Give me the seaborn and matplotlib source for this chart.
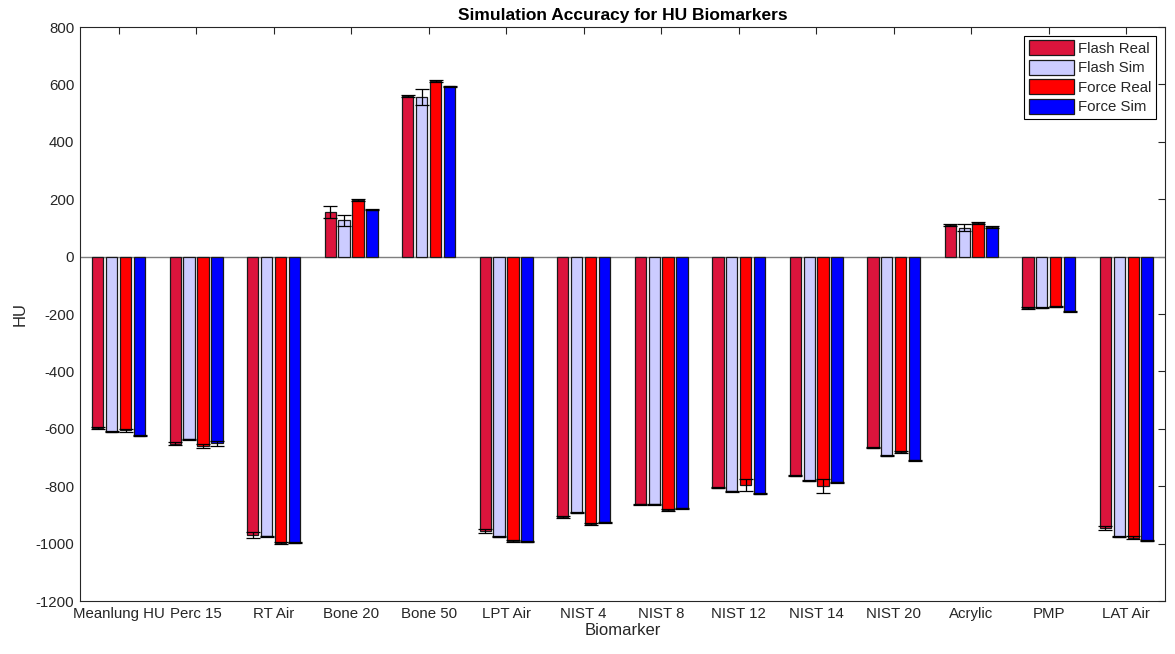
import numpy as np
import pandas as pd
import matplotlib
matplotlib.use("Agg")
import matplotlib.pyplot as plt
import seaborn as sns

biomarkers = ["Meanlung HU", "Perc 15", "RT Air", "Bone 20", "Bone 50", "LPT Air",
              "NIST 4", "NIST 8", "NIST 12", "NIST 14", "NIST 20", "Acrylic", "PMP", "LAT Air"]
series = ["Flash Real", "Flash Sim", "Force Real", "Force Sim"]

flash_real = [-597, -652, -970, 155, 559, -956, -906, -863, -805, -763, -666, 111, -179, -945]
flash_sim = [-610, -637, -974, 126, 556, -976, -893, -863, -818, -781, -694, 101, -178, -976]
force_real = [-605, -660, -999, 197, 611, -990, -932, -882, -796, -799, -681, 118, -175, -979]
force_sim = [-624, -651, -997, 163, 594, -993, -925, -877, -826, -786, -710, 103, -190, -990]

flash_real_err = [5, 6, 10, 20, 3, 8, 3, 2, 2, 2, 2, 3, 2, 8]
flash_sim_err = [2, 3, 2, 20, 28, 2, 2, 2, 2, 2, 2, 13, 2, 2]
force_real_err = [5, 6, 3, 3, 3, 3, 3, 3, 22, 23, 2, 4, 2, 6]
force_sim_err = [2, 10, 2, 2, 2, 2, 2, 2, 2, 2, 2, 2, 2, 2]

colors = ["#DC143C", "#CCCCFF", "#FF0000", "#0000FF"]

values = [flash_real, flash_sim, force_real, force_sim]
errors = [flash_real_err, flash_sim_err, force_real_err, force_sim_err]

df = pd.DataFrame({
    "Biomarker": np.tile(biomarkers, len(series)),
    "Series": np.repeat(series, len(biomarkers)),
    "HU": np.concatenate(values),
})

sns.set_style("white")
plt.rcParams["font.family"] = ["Liberation Sans", "DejaVu Sans"]
plt.rcParams["axes.unicode_minus"] = False
plt.rcParams["xtick.direction"] = "in"
plt.rcParams["ytick.direction"] = "in"

fig = plt.figure(figsize=(11.75, 6.54), dpi=100)
ax = fig.add_axes([0.068, 0.081, 0.9235, 0.8777])

sns.barplot(data=df, x="Biomarker", y="HU", hue="Series", order=biomarkers,
            hue_order=series, palette=colors, saturation=1, width=0.72, gap=0.18,
            errorbar=None, edgecolor="#1a1a1a", linewidth=0.9, ax=ax, zorder=2)

# error bars at the end of every bar
for cont, err in zip(ax.containers, errors):
    xs = [p.get_x() + p.get_width() / 2 for p in cont.patches]
    hs = [p.get_height() for p in cont.patches]
    ax.errorbar(xs, hs, yerr=err, fmt="none", ecolor="black", elinewidth=0.9,
                capsize=5, capthick=0.9, zorder=3)

ax.axhline(0, color="#7f7f7f", lw=1.0, zorder=1)

ax.set_xlim(-0.5, len(biomarkers) - 0.5)
ax.set_ylim(-1200, 800)
ax.set_yticks(np.arange(-1200, 801, 200))
ax.tick_params(axis="both", which="both", labelsize=10.8, top=True, right=True,
               length=5, width=0.8, color="#262626", labelcolor="#262626", pad=4)
for s in ax.spines.values():
    s.set_color("#262626")
    s.set_linewidth(0.8)

ax.set_xlabel("Biomarker", fontsize=12, color="#262626", labelpad=2)
ax.set_ylabel("HU", fontsize=12, color="#262626", labelpad=6)
ax.set_title("Simulation Accuracy for HU Biomarkers", fontsize=12.5, fontweight="bold",
             color="black", pad=5)

leg = ax.legend(loc="upper right", bbox_to_anchor=(0.992, 0.985), fontsize=10.8,
                frameon=True, fancybox=False, edgecolor="black", framealpha=1,
                handlelength=3.0, handleheight=1.2, handletextpad=0.3,
                labelspacing=0.25, borderpad=0.3, borderaxespad=0)
leg.get_frame().set_linewidth(0.8)

fig.savefig("out.png", dpi=100)
